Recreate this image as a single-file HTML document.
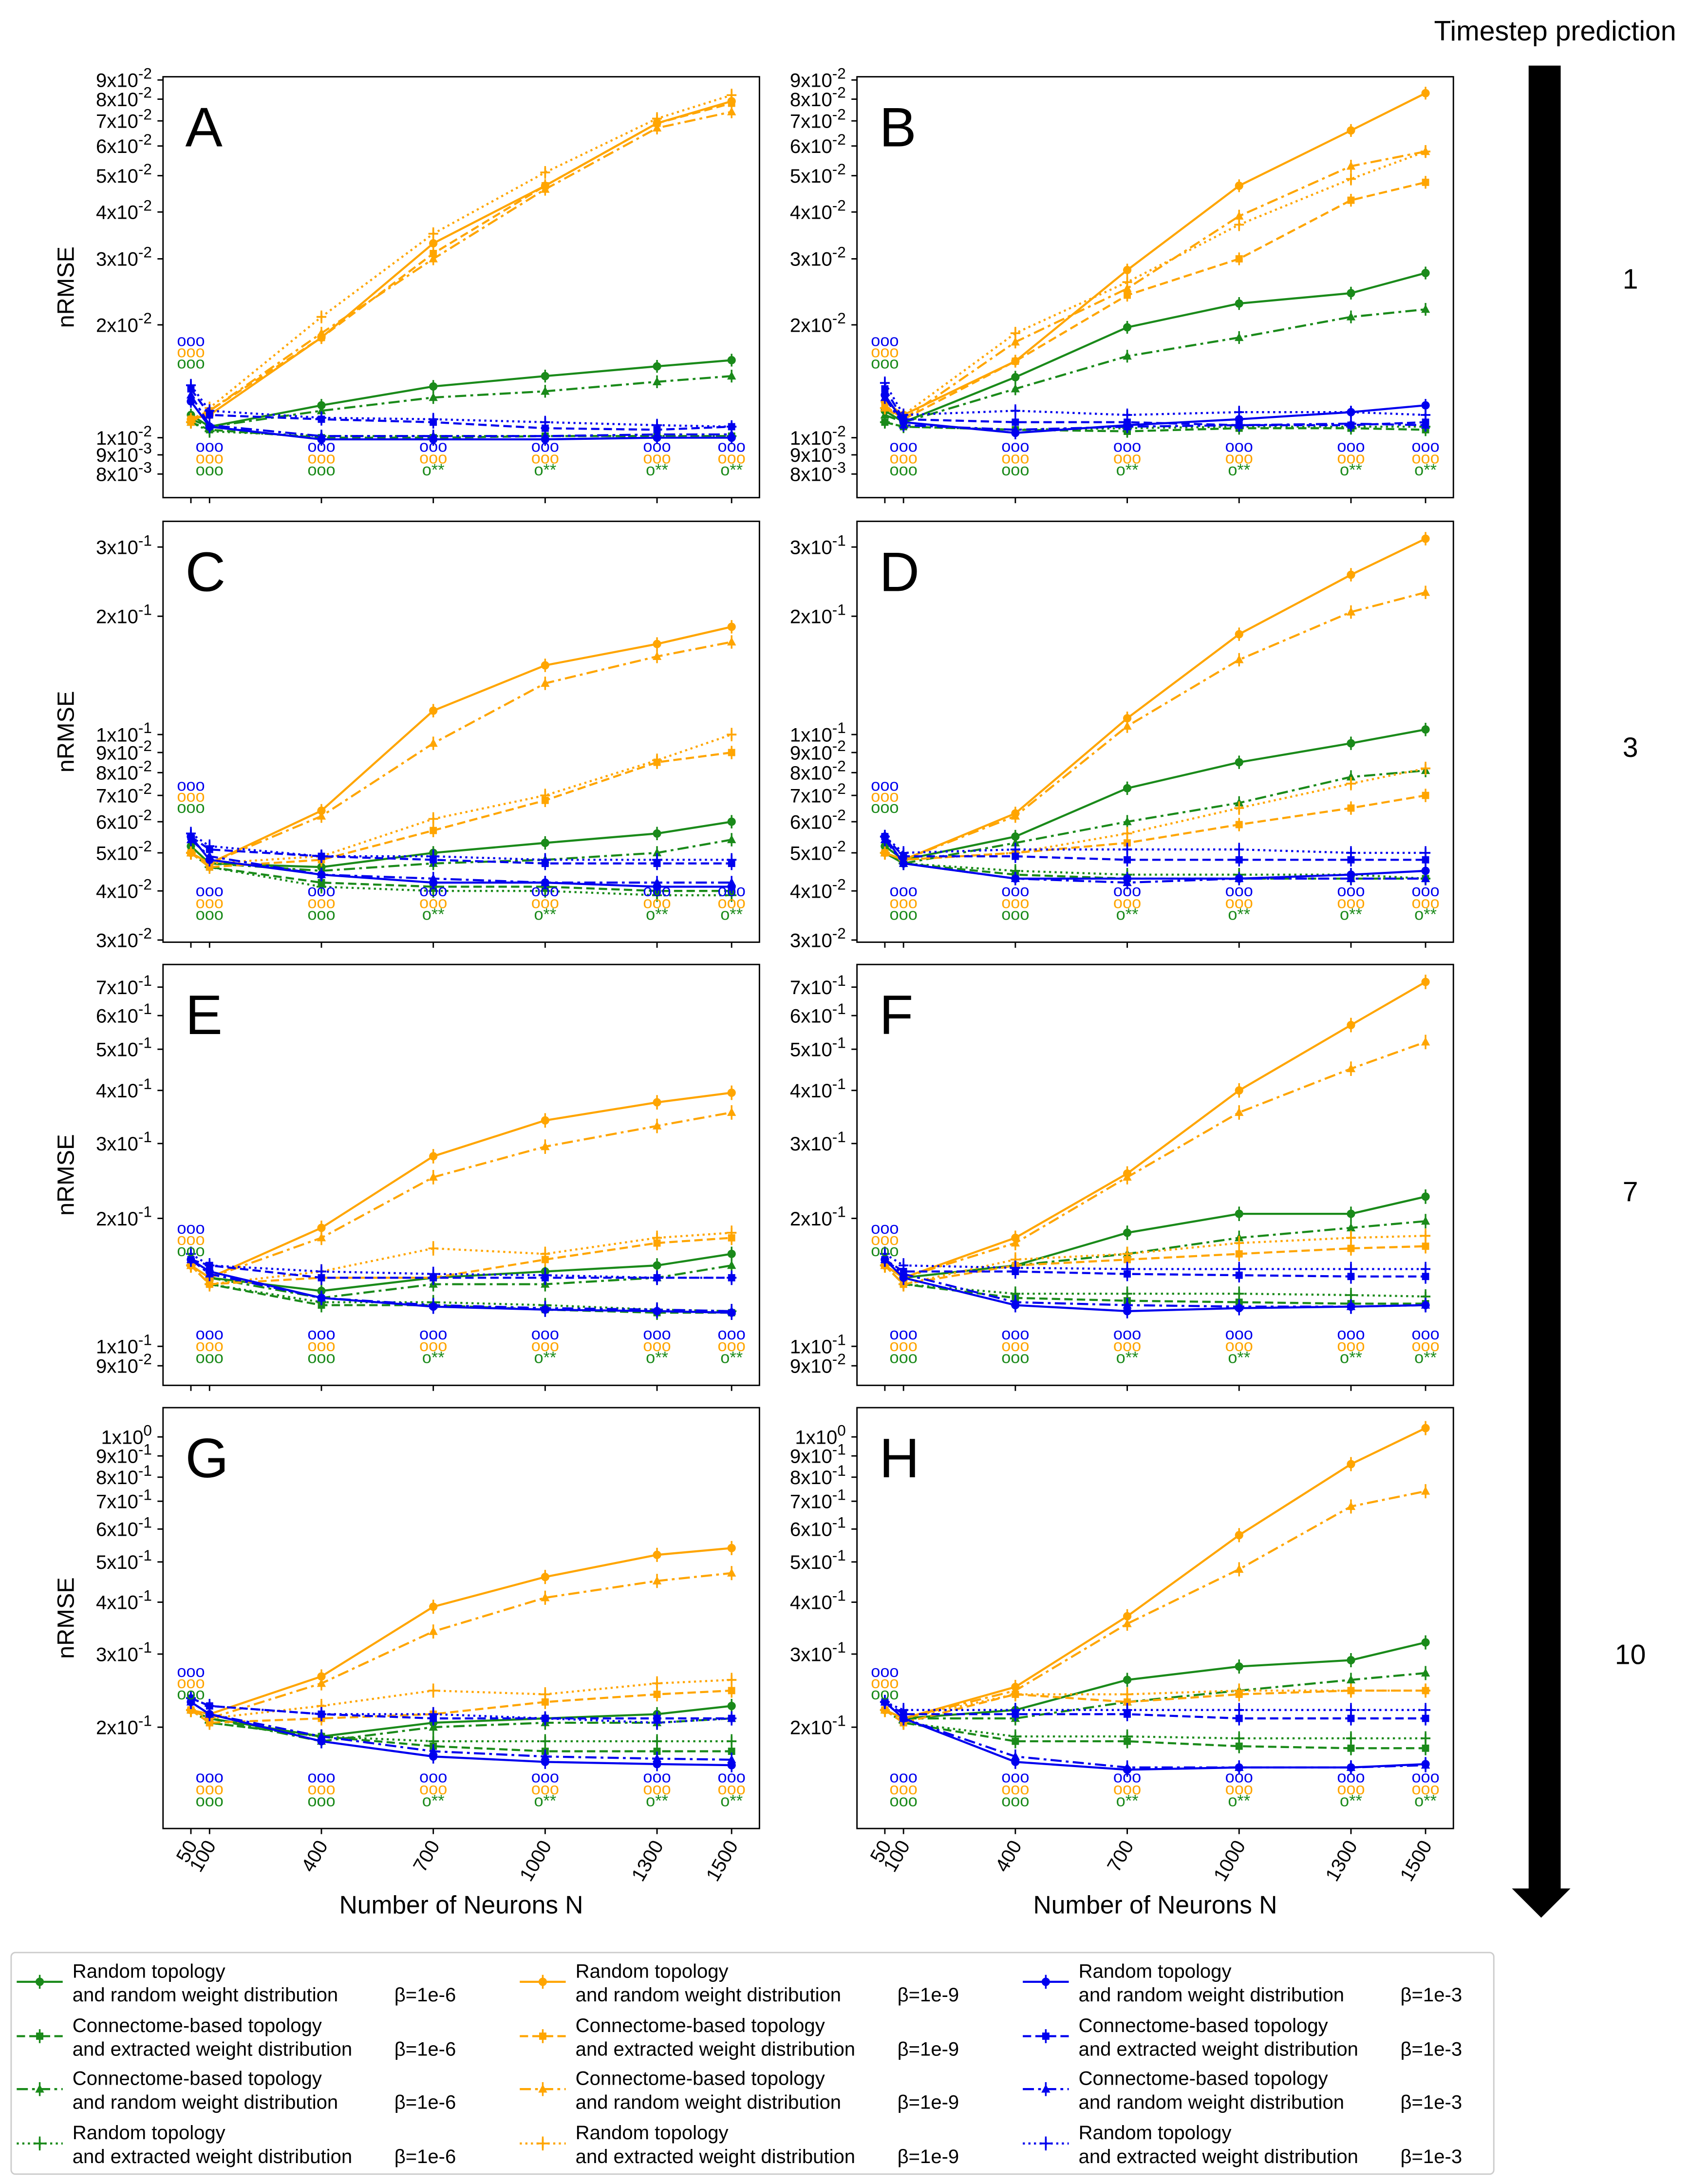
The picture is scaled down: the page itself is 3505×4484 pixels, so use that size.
<!DOCTYPE html>
<html><head><meta charset="utf-8"><style>
html,body{margin:0;padding:0;background:#fff}
svg{display:block}
text{font-family:"Liberation Sans","DejaVu Sans",sans-serif}
</style></head><body>
<svg id="chart" width="3505" height="4484" viewBox="0 0 1225 1567" xmlns="http://www.w3.org/2000/svg">
<g id="panels"></g>
<g id="legend"></g>
<g>
<text x="1116" y="29" font-size="20" text-anchor="middle">Timestep prediction</text>
<rect x="1097" y="47" width="23" height="1310" fill="#000"/>
<polygon points="1085,1355 1127,1355 1106,1376" fill="#000"/>
<text x="1170" y="207" font-size="20" text-anchor="middle">1</text>
<text x="1170" y="543" font-size="20" text-anchor="middle">3</text>
<text x="1170" y="862" font-size="20" text-anchor="middle">7</text>
<text x="1170" y="1194" font-size="20" text-anchor="middle">10</text>
</g>
</svg>
<script>
const neurons = [50,100,400,700,1000,1300,1500];
const panelLetters = ["A","B","C","D","E","F","G","H"];
const dataA = [
[0.0115,0.0107,0.0122,0.0137,0.0146,0.0155,0.0161],
[0.011,0.0105,0.0100,0.0100,0.0101,0.0101,0.0101],
[0.0112,0.0107,0.0118,0.0128,0.0133,0.0141,0.0146],
[0.011,0.0104,0.0101,0.0101,0.0101,0.0101,0.0101],
[0.0112,0.0115,0.0185,0.033,0.047,0.069,0.079],
[0.0112,0.0118,0.0185,0.031,0.047,0.069,0.078],
[0.011,0.0118,0.019,0.030,0.046,0.067,0.074],
[0.011,0.012,0.021,0.035,0.051,0.071,0.082],
[0.0125,0.0107,0.0099,0.0099,0.0099,0.0100,0.0100],
[0.0135,0.0115,0.0112,0.0110,0.0106,0.0105,0.0107],
[0.013,0.0108,0.0101,0.0101,0.0101,0.0102,0.0102],
[0.0138,0.0118,0.0113,0.0112,0.0110,0.0108,0.0107]];
const dataB = [
[0.0118,0.011,0.0145,0.0197,0.0228,0.0243,0.0275],
[0.011,0.0107,0.0105,0.0104,0.0106,0.0106,0.0105],
[0.0115,0.011,0.0135,0.0165,0.0185,0.021,0.022],
[0.011,0.0107,0.0105,0.0106,0.0107,0.0107,0.0107],
[0.0125,0.0115,0.016,0.028,0.047,0.066,0.083],
[0.0122,0.0112,0.016,0.024,0.030,0.043,0.048],
[0.012,0.0112,0.018,0.025,0.039,0.053,0.058],
[0.012,0.0115,0.019,0.026,0.037,0.049,0.058],
[0.013,0.011,0.0103,0.0108,0.0112,0.0117,0.0122],
[0.0135,0.0112,0.011,0.011,0.0108,0.0108,0.011],
[0.0128,0.0108,0.0105,0.0107,0.0108,0.0109,0.0108],
[0.014,0.0115,0.0118,0.0115,0.0117,0.0117,0.0115]];
const dataC = [
[0.052,0.047,0.046,0.050,0.053,0.056,0.060],
[0.050,0.046,0.042,0.041,0.041,0.040,0.040],
[0.050,0.047,0.045,0.047,0.048,0.050,0.054],
[0.050,0.046,0.041,0.040,0.040,0.039,0.039],
[0.050,0.047,0.064,0.115,0.150,0.170,0.188],
[0.050,0.046,0.048,0.057,0.068,0.085,0.090],
[0.050,0.047,0.062,0.095,0.135,0.158,0.172],
[0.050,0.047,0.049,0.061,0.070,0.086,0.100],
[0.055,0.048,0.044,0.042,0.042,0.041,0.041],
[0.055,0.051,0.049,0.048,0.047,0.047,0.047],
[0.054,0.049,0.044,0.043,0.042,0.042,0.042],
[0.056,0.052,0.049,0.049,0.048,0.048,0.048]];
const dataD = [
[0.052,0.048,0.055,0.073,0.085,0.095,0.103],
[0.050,0.047,0.044,0.043,0.043,0.043,0.043],
[0.050,0.047,0.053,0.060,0.067,0.078,0.081],
[0.050,0.047,0.045,0.044,0.044,0.044,0.043],
[0.050,0.048,0.063,0.110,0.180,0.255,0.315],
[0.050,0.048,0.050,0.053,0.059,0.065,0.070],
[0.050,0.048,0.062,0.105,0.155,0.205,0.230],
[0.050,0.048,0.050,0.056,0.065,0.075,0.082],
[0.055,0.047,0.043,0.043,0.043,0.044,0.045],
[0.055,0.049,0.049,0.048,0.048,0.048,0.048],
[0.054,0.047,0.043,0.042,0.043,0.043,0.043],
[0.055,0.050,0.051,0.051,0.051,0.050,0.050]];
const dataE = [
[0.155,0.145,0.135,0.145,0.150,0.155,0.165],
[0.155,0.140,0.125,0.125,0.122,0.120,0.120],
[0.155,0.145,0.130,0.140,0.140,0.145,0.155],
[0.155,0.140,0.127,0.127,0.125,0.122,0.121],
[0.155,0.145,0.190,0.280,0.340,0.375,0.395],
[0.155,0.140,0.145,0.145,0.160,0.175,0.180],
[0.155,0.145,0.180,0.250,0.295,0.330,0.355],
[0.155,0.140,0.150,0.170,0.165,0.180,0.185],
[0.160,0.150,0.130,0.124,0.122,0.121,0.120],
[0.160,0.155,0.145,0.145,0.145,0.145,0.145],
[0.160,0.148,0.130,0.125,0.123,0.122,0.121],
[0.165,0.155,0.150,0.148,0.147,0.145,0.145]];
const dataF = [
[0.155,0.145,0.155,0.185,0.205,0.205,0.225],
[0.155,0.140,0.130,0.128,0.127,0.126,0.126],
[0.155,0.145,0.155,0.165,0.180,0.190,0.197],
[0.155,0.140,0.133,0.133,0.133,0.132,0.131],
[0.155,0.145,0.180,0.255,0.400,0.570,0.720],
[0.155,0.140,0.155,0.160,0.165,0.170,0.172],
[0.155,0.145,0.175,0.250,0.355,0.450,0.520],
[0.155,0.140,0.160,0.165,0.175,0.180,0.182],
[0.160,0.145,0.125,0.121,0.123,0.124,0.125],
[0.160,0.150,0.150,0.148,0.147,0.146,0.146],
[0.160,0.148,0.127,0.125,0.124,0.124,0.125],
[0.165,0.155,0.153,0.152,0.152,0.152,0.152]];
const dataG = [
[0.22,0.21,0.19,0.205,0.21,0.215,0.225],
[0.22,0.205,0.19,0.18,0.175,0.175,0.175],
[0.22,0.21,0.185,0.20,0.205,0.205,0.21],
[0.22,0.205,0.19,0.185,0.185,0.185,0.185],
[0.22,0.215,0.265,0.39,0.46,0.52,0.54],
[0.22,0.205,0.21,0.215,0.23,0.24,0.245],
[0.22,0.21,0.255,0.34,0.41,0.45,0.47],
[0.22,0.21,0.225,0.245,0.24,0.255,0.26],
[0.23,0.215,0.185,0.17,0.165,0.163,0.162],
[0.235,0.225,0.215,0.21,0.21,0.21,0.21],
[0.23,0.215,0.19,0.175,0.17,0.168,0.167],
[0.235,0.225,0.215,0.215,0.21,0.205,0.21]];
const dataH = [
[0.22,0.21,0.22,0.26,0.28,0.29,0.32],
[0.22,0.205,0.185,0.185,0.18,0.178,0.178],
[0.22,0.21,0.21,0.23,0.245,0.26,0.27],
[0.22,0.205,0.19,0.19,0.188,0.188,0.188],
[0.22,0.21,0.25,0.37,0.58,0.86,1.05],
[0.22,0.205,0.24,0.23,0.24,0.245,0.245],
[0.22,0.21,0.245,0.355,0.48,0.68,0.74],
[0.22,0.21,0.24,0.24,0.245,0.245,0.245],
[0.23,0.21,0.165,0.158,0.16,0.16,0.163],
[0.23,0.215,0.215,0.215,0.21,0.21,0.21],
[0.23,0.21,0.17,0.16,0.16,0.16,0.162],
[0.23,0.22,0.22,0.22,0.22,0.22,0.22]];
const panelData = [dataA,dataB,dataC,dataD,dataE,dataF,dataG,dataH];
const tickMantA = [8,9,1,2,3,4,5,6,7,8,9];
const tickExpA = [-3,-3,-2,-2,-2,-2,-2,-2,-2,-2,-2];
const tickMantC = [3,4,5,6,7,8,9,1,2,3];
const tickExpC = [-2,-2,-2,-2,-2,-2,-2,-1,-1,-1];
const tickMantE = [9,1,2,3,4,5,6,7];
const tickExpE = [-2,-1,-1,-1,-1,-1,-1,-1];
const tickMantG = [2,3,4,5,6,7,8,9,1];
const tickExpG = [-1,-1,-1,-1,-1,-1,-1,-1,0];
const legendL1 = ["Random topology","Connectome-based topology","Connectome-based topology","Random topology"];
const legendL2 = ["and random weight distribution","and extracted weight distribution","and random weight distribution","and extracted weight distribution"];
const betas = ["β=1e-6","β=1e-9","β=1e-3"];

const NS="http://www.w3.org/2000/svg";
const colors=["#1a8a1a","#ffa500","#0000ee"];
const dashes=["","6,3","8,3,2,3","1.5,2.5"];
const rowScale=[{ref:0.01,refY:259,dec:269,mant:tickMantA,exp:tickExpA},
{ref:0.1,refY:153,dec:282,mant:tickMantC,exp:tickExpC},
{ref:0.1,refY:274,dec:305,mant:tickMantE,exp:tickExpE},
{ref:1,refY:21,dec:298,mant:tickMantG,exp:tickExpG}];
const PW=428,PH=302,colX=[117,615],rowY=[55,374,692,1010];
function el(tag,attrs,parent){const e=document.createElementNS(NS,tag);for(const k in attrs)e.setAttribute(k,attrs[k]);parent.appendChild(e);return e;}
function marker(g,kind,x,y,c){
  if(kind===0) el("circle",{cx:x,cy:y,r:3,fill:c},g);
  else if(kind===1) el("rect",{x:x-2.6,y:y-2.6,width:5.2,height:5.2,fill:c},g);
  else if(kind===2) el("polygon",{points:`${x},${y-3.5} ${x-3.2},${y+2.5} ${x+3.2},${y+2.5}`,fill:c},g);
  else {el("line",{x1:x-3.5,y1:y,x2:x+3.5,y2:y,stroke:c,"stroke-width":1.3},g);el("line",{x1:x,y1:y-3.5,x2:x,y2:y+3.5,stroke:c,"stroke-width":1.3},g);}
}
const panels=document.getElementById("panels");
for(let p=0;p<8;p++){
  const col=p%2,row=Math.floor(p/2);
  const x0=colX[col],y0=rowY[row],sc=rowScale[row];
  const X=n=>x0+20+(n-50)*0.2676;
  const Y=v=>y0+sc.refY-sc.dec*Math.log10(v/sc.ref);
  const g=el("g",{},panels);
  
  
  el("rect",{x:x0,y:y0,width:PW,height:PH,fill:"none",stroke:"#000","stroke-width":1},g);
  const lt=el("text",{x:x0+16,y:y0+50,"font-size":40},g);lt.textContent=panelLetters[p];
  
  
  for(let i=0;i<sc.mant.length;i++){
    const v=sc.mant[i]*Math.pow(10,sc.exp[i]);const y=Y(v);
    el("line",{x1:x0-4,y1:y,x2:x0,y2:y,stroke:"#000","stroke-width":1},g);
    const t=el("text",{x:x0-8,y:y+5,"font-size":14,"text-anchor":"end"},g);
    
    
    const a=document.createElementNS(NS,"tspan");a.textContent=sc.mant[i]+"x10";t.appendChild(a);
    const b=document.createElementNS(NS,"tspan");b.setAttribute("dy","-6");b.setAttribute("font-size","11");b.textContent=sc.exp[i];t.appendChild(b);
  }
  if(col===0){const t=el("text",{x:0,y:0,"font-size":17,"text-anchor":"middle",transform:`translate(${x0-64},${y0+PH/2}) rotate(-90)`},g);t.textContent="nRMSE";
    }
  neurons.forEach(n=>{
    el("line",{x1:X(n),y1:y0+PH,x2:X(n),y2:y0+PH+4,stroke:"#000","stroke-width":1},g);
    if(row===3){const t=el("text",{x:0,y:0,"font-size":14,"text-anchor":"end",transform:`translate(${X(n)+5},${y0+PH+12}) rotate(-60)`},g);t.textContent=n;
      }
  });
  if(row===3){const t=el("text",{x:x0+PW/2,y:y0+PH+61,"font-size":18,"text-anchor":"middle"},g);t.textContent="Number of Neurons N";
    }
  const data=panelData[p];
  for(let s=0;s<12;s++){
    const c=colors[Math.floor(s/4)],st=s%4;
    const sg=el("g",{},g);
    
    
    const pts=data[s].map((v,i)=>X(neurons[i])+","+Y(v)).join(" ");
    const pl=el("polyline",{points:pts,fill:"none",stroke:c,"stroke-width":1.5},sg);
    if(dashes[st])pl.setAttribute("stroke-dasharray",dashes[st]);
    data[s].forEach((v,i)=>{const x=X(neurons[i]),y=Y(v);
      el("line",{x1:x,y1:Y(v*1.04),x2:x,y2:Y(v/1.04),stroke:c,"stroke-width":1.2},sg);
      marker(sg,st,x,y,c);});
  }
  const sigG=el("g",{"font-size":12,"text-anchor":"middle"},g);
  
  
  [2,1,0].forEach((ci,ri)=>{
    neurons.forEach((n,i)=>{
      const y=i===0?y0+PH*0.64+ri*8:y0+PH-33+ri*8.5;
      const t=el("text",{x:X(n),y:y,fill:colors[ci]},sigG);t.textContent=i===0?"ooo":(ci===0&&i>2?"o**":"ooo");
    });
  });
}
const lg=document.getElementById("legend");


el("rect",{x:8,y:1401,width:1064,height:159,fill:"#fff",stroke:"#ccc","stroke-width":1,rx:3},lg);
const lcx=[12,373,734],lry=[1422,1461,1499,1538];
for(let c=0;c<3;c++)for(let r=0;r<4;r++){
  const g=el("g",{},lg);
  
  
  const x=lcx[c],y=lry[r];
  const ln=el("line",{x1:x,y1:y,x2:x+33,y2:y,stroke:colors[c],"stroke-width":1.5},g);
  if(dashes[r])ln.setAttribute("stroke-dasharray",dashes[r]);
  el("line",{x1:x+16.5,y1:y-5,x2:x+16.5,y2:y+5,stroke:colors[c],"stroke-width":1.2},g);
  marker(g,r,x+16.5,y,colors[c]);
  const t1=el("text",{x:x+40,y:y-3,"font-size":14},g);t1.textContent=legendL1[r];
  const t2=el("text",{x:x+40,y:y+14,"font-size":14},g);t2.textContent=legendL2[r];
  const t3=el("text",{x:x+271,y:y+14,"font-size":14},g);t3.textContent=betas[c];
}
</script>
</body></html>
